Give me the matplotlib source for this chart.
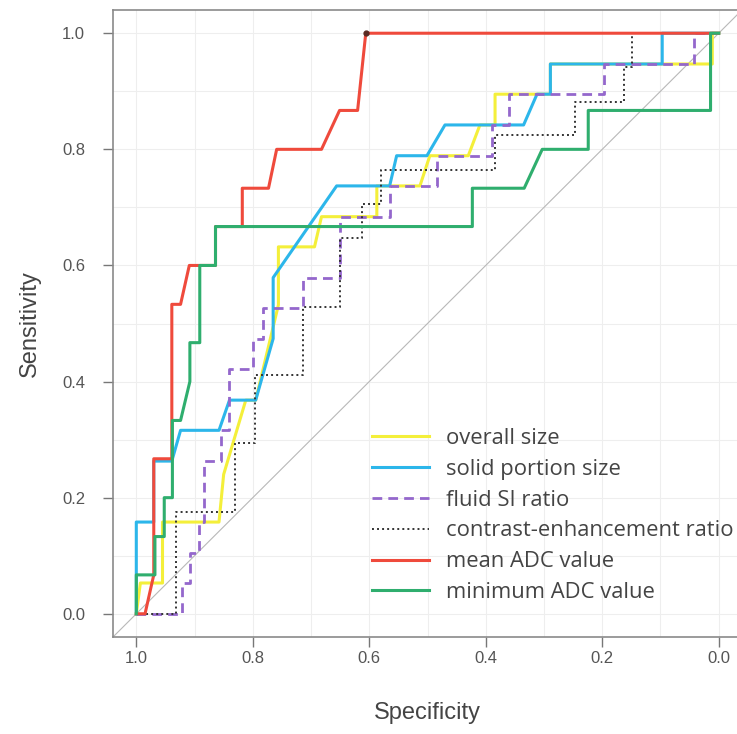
import matplotlib.pyplot as plt
import numpy as np

# ROC curves (specificity, sensitivity)
overall_spec = [1.0, 0.993, 0.955, 0.955, 0.858, 0.850, 0.812, 0.795, 0.756, 0.756, 0.694, 0.682,
                0.587, 0.587, 0.513, 0.496, 0.430, 0.410, 0.384, 0.384, 0.289, 0.289, 0.011, 0.011, 0.0]
overall_sens = [0.0, 0.053, 0.053, 0.158, 0.158, 0.240, 0.368, 0.368, 0.532, 0.632, 0.632, 0.684,
                0.684, 0.737, 0.737, 0.789, 0.789, 0.842, 0.842, 0.895, 0.895, 0.947, 0.947, 1.0, 1.0]

solid_spec = [1.0, 1.0, 0.970, 0.970, 0.939, 0.924, 0.858, 0.840, 0.795, 0.765, 0.765, 0.656,
              0.565, 0.553, 0.501, 0.470, 0.335, 0.312, 0.289, 0.289, 0.097, 0.097, 0.0]
solid_sens = [0.0, 0.158, 0.158, 0.263, 0.263, 0.316, 0.316, 0.368, 0.368, 0.474, 0.579, 0.737,
              0.737, 0.789, 0.789, 0.842, 0.842, 0.895, 0.895, 0.947, 0.947, 1.0, 1.0]

fluid_spec = [1.0, 0.921, 0.921, 0.907, 0.907, 0.892, 0.892, 0.883, 0.883, 0.854, 0.854, 0.840,
              0.840, 0.800, 0.800, 0.783, 0.783, 0.714, 0.714, 0.651, 0.651, 0.565, 0.565, 0.484,
              0.484, 0.389, 0.389, 0.360, 0.360, 0.197, 0.197, 0.043, 0.043, 0.0]
fluid_sens = [0.0, 0.0, 0.053, 0.053, 0.105, 0.105, 0.158, 0.158, 0.263, 0.263, 0.316, 0.316,
              0.421, 0.421, 0.474, 0.474, 0.526, 0.526, 0.579, 0.579, 0.684, 0.684, 0.737, 0.737,
              0.789, 0.789, 0.842, 0.842, 0.895, 0.895, 0.947, 0.947, 1.0, 1.0]

contrast_spec = [1.0, 0.932, 0.932, 0.831, 0.831, 0.797, 0.797, 0.713, 0.713, 0.651, 0.651, 0.613,
                 0.613, 0.579, 0.579, 0.384, 0.384, 0.246, 0.246, 0.163, 0.163, 0.149, 0.149, 0.0]
contrast_sens = [0.0, 0.0, 0.176, 0.176, 0.294, 0.294, 0.412, 0.412, 0.529, 0.529, 0.647, 0.647,
                 0.706, 0.706, 0.765, 0.765, 0.824, 0.824, 0.882, 0.882, 0.941, 0.941, 1.0, 1.0]

mean_spec = [1.0, 0.985, 0.970, 0.970, 0.939, 0.939, 0.924, 0.909, 0.864, 0.864, 0.818, 0.818,
             0.773, 0.759, 0.682, 0.651, 0.620, 0.606, 0.0]
mean_sens = [0.0, 0.0, 0.067, 0.267, 0.267, 0.533, 0.533, 0.6, 0.6, 0.667, 0.667, 0.733,
             0.733, 0.8, 0.8, 0.867, 0.867, 1.0, 1.0]

min_spec = [1.0, 1.0, 0.968, 0.968, 0.952, 0.952, 0.938, 0.938, 0.924, 0.908, 0.908, 0.891,
            0.891, 0.864, 0.864, 0.423, 0.423, 0.334, 0.303, 0.224, 0.224, 0.014, 0.014, 0.0]
min_sens = [0.0, 0.067, 0.067, 0.133, 0.133, 0.2, 0.2, 0.333, 0.333, 0.4, 0.467, 0.467,
            0.6, 0.6, 0.667, 0.667, 0.733, 0.733, 0.8, 0.8, 0.867, 0.867, 1.0, 1.0]

# best threshold point marked on mean ADC curve
best_point = (0.606, 1.0)

fig = plt.figure(figsize=(7.37, 7.34), dpi=100)
ax = fig.add_axes([113 / 737, 97 / 734, 629 / 737, 627 / 734])

ax.set_xlim(1.04, -0.04)
ax.set_ylim(-0.04, 1.04)

# light grid every 0.1
ax.set_xticks(np.arange(0, 1.01, 0.1), minor=True)
ax.set_yticks(np.arange(0, 1.01, 0.1), minor=True)
ax.grid(which='both', color='#eeeeee', linewidth=0.8)
ax.set_axisbelow(True)

ax.axline((1, 0), (0, 1), color='#b8b8b8', linewidth=0.8, zorder=1)

ax.plot(overall_spec, overall_sens, color='#f4ef3a', lw=2.2, label='overall size')
ax.plot(solid_spec, solid_sens, color='#2cb6ea', lw=2.2, label='solid portion size')
ax.plot(fluid_spec, fluid_sens, color='#9467cc', lw=2.0, linestyle=(0, (3.5, 2.2)),
        label='fluid SI ratio')
ax.plot(contrast_spec, contrast_sens, color='#333333', lw=1.4, linestyle=(0, (1, 1.6)),
        label='contrast-enhancement ratio')
ax.plot(mean_spec, mean_sens, color='#ef4a3c', lw=2.2, label='mean ADC value')
ax.plot(min_spec, min_sens, color='#2fae6e', lw=2.2, label='minimum ADC value')
ax.plot(*best_point, 'o', color='#5a2a22', markersize=3.5, zorder=5)

ticks = [0.0, 0.2, 0.4, 0.6, 0.8, 1.0]
ax.set_xticks(ticks)
ax.set_yticks(ticks)
ax.set_xticklabels([f'{t:.1f}' for t in ticks])
ax.set_yticklabels([f'{t:.1f}' for t in ticks])
ax.tick_params(which='major', length=7, width=1, color='#777777', labelcolor='#555555',
               labelsize=12)
ax.tick_params(axis='y', pad=13)
ax.tick_params(axis='x', pad=3)
ax.tick_params(which='minor', length=0)
for lab in ax.get_xticklabels() + ax.get_yticklabels():
    lab.set_family('Liberation Sans')

for s in ax.spines.values():
    s.set_color('#8a8a8a')
    s.set_linewidth(1.2)

ax.set_xlabel('Specificity', fontsize=17, color='#444444', family='Liberation Sans', labelpad=26)
ax.set_ylabel('Sensitivity', fontsize=17, color='#444444', family='Liberation Sans', labelpad=15)

leg = ax.legend(loc='lower left', bbox_to_anchor=(0.411, 0.054), frameon=False,
                borderaxespad=0, borderpad=0, handlelength=2.6, handletextpad=0.78,
                labelspacing=0.45, prop={'family': 'Open Sans', 'size': 15.8})
for t in leg.get_texts():
    t.set_color('#444444')

plt.savefig('out.png', dpi=100)
